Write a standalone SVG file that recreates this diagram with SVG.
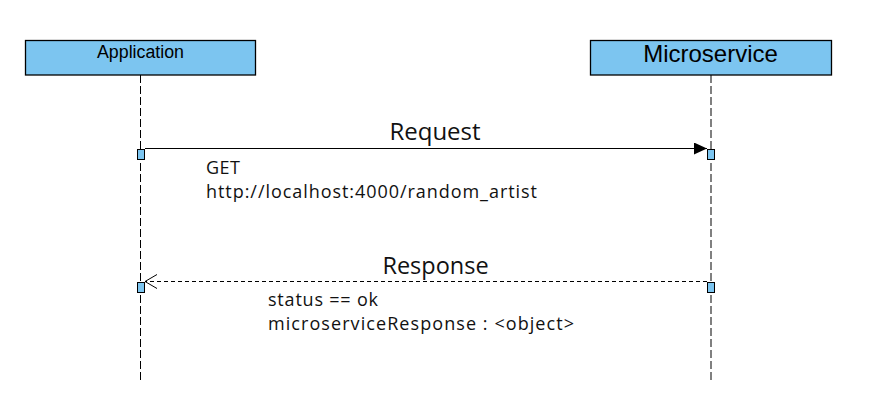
<svg xmlns="http://www.w3.org/2000/svg" width="894" height="419" viewBox="0 0 894 419">
<style>
.box{fill:#7CC5F0;stroke:#000;stroke-width:1.3}
.act{fill:#7CC5F0;stroke:#000;stroke-width:1}
.lbl{font-family:"Open Sans","Noto Sans",sans-serif;fill:#111}
.hdr{font-family:"Liberation Sans",Arial,sans-serif;fill:#000;text-anchor:middle}
</style>
<defs>
<marker id="filled" markerWidth="14" markerHeight="12" refX="13" refY="6" orient="auto" markerUnits="userSpaceOnUse">
<path d="M0,0 L13,6 L0,12 Z" fill="#000"/>
</marker>
<marker id="open" markerWidth="14" markerHeight="16" refX="12" refY="7.5" orient="auto" markerUnits="userSpaceOnUse">
<path d="M0,0.5 L12,7.5 L0,14.5" fill="none" stroke="#000" stroke-width="1"/>
</marker>
</defs>
<rect width="894" height="419" fill="#fff"/>
<g id="lifelines">
<line x1="140.5" y1="75" x2="140.5" y2="381" stroke="#000" stroke-width="1" stroke-dasharray="8,3"/>
<line x1="711" y1="75" x2="711" y2="381" stroke="#808080" stroke-width="2" stroke-dasharray="8,3"/>
</g>
<g id="application">
<rect class="box" x="25.5" y="40.5" width="230" height="34.5"/>
<text class="hdr" x="140.5" y="58" font-size="18" textLength="87" lengthAdjust="spacingAndGlyphs">Application</text>
</g>
<g id="microservice">
<rect class="box" x="590.5" y="40.5" width="241" height="34.5"/>
<text class="hdr" x="710.5" y="62" font-size="24">Microservice</text>
</g>
<g id="connectors">
<line x1="145" y1="148.5" x2="707" y2="148.5" stroke="#000" stroke-width="1" marker-end="url(#filled)"/>
<text class="lbl" x="435" y="140" font-size="24" text-anchor="middle">Request</text>
<text class="lbl" x="206" y="174" font-size="18" textLength="34">GET</text>
<text class="lbl" x="206" y="198" font-size="18" textLength="331">http://localhost:4000/random_artist</text>
<line x1="707" y1="281.5" x2="145" y2="281.5" stroke="#000" stroke-width="1" stroke-dasharray="4,3" marker-end="url(#open)"/>
<text class="lbl" x="435.5" y="273.5" font-size="23.5" text-anchor="middle">Response</text>
<text class="lbl" x="268" y="306" font-size="18" textLength="110">status == ok</text>
<text class="lbl" x="268" y="330" font-size="18" textLength="306">microserviceResponse : &lt;object&gt;</text>
</g>
<g id="activations">
<rect class="act" x="137.5" y="149.5" width="7" height="10"/>
<rect class="act" x="707.5" y="149.5" width="7" height="10"/>
<rect class="act" x="137.5" y="282.5" width="7" height="10"/>
<rect class="act" x="707.5" y="282.5" width="7" height="10"/>
</g>
</svg>
